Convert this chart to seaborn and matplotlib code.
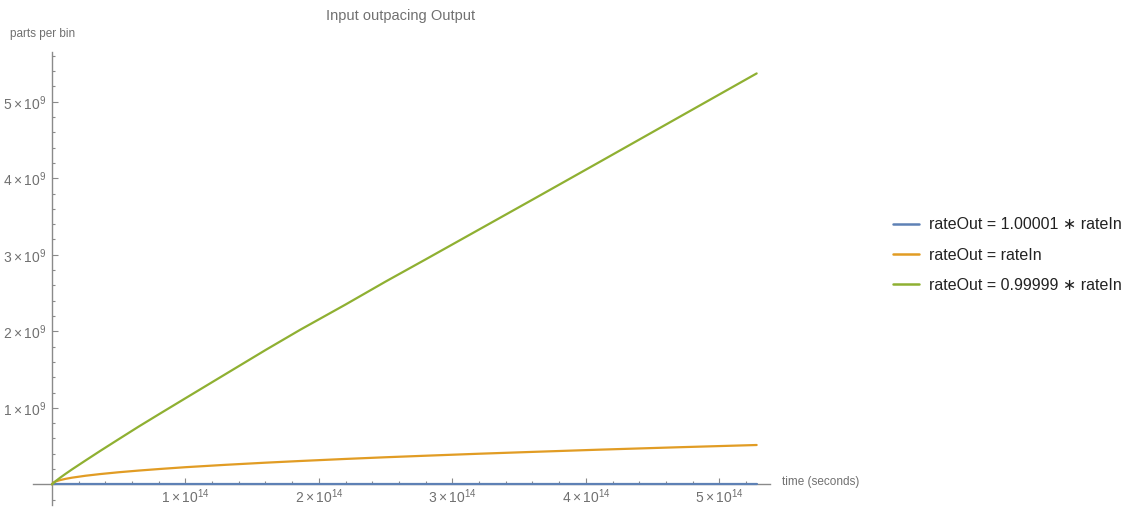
import matplotlib
matplotlib.use("Agg")
import matplotlib.pyplot as plt
import pandas as pd
import seaborn as sns
from matplotlib.ticker import FixedLocator, MultipleLocator, FuncFormatter

# time samples (seconds)
time_s = [0, 0.01e14, 0.03e14, 0.06e14, 0.1e14, 0.15e14, 0.25e14, 0.36e14,
          0.5e14, 0.65e14, 0.81e14, 1.0e14, 1.3e14, 1.6e14, 1.86e14, 2.2e14,
          2.5e14, 2.8e14, 3.2e14, 3.6e14, 4.1e14, 4.7e14, 5.28e14]
# parts per bin for each output-rate case
parts_fast_out = [0] * 23
parts_equal = [0, 0.022e9, 0.039e9, 0.055e9, 0.071e9, 0.087e9, 0.112e9, 0.134e9,
               0.158e9, 0.180e9, 0.201e9, 0.224e9, 0.255e9, 0.283e9, 0.305e9, 0.332e9,
               0.354e9, 0.374e9, 0.400e9, 0.424e9, 0.453e9, 0.485e9, 0.514e9]
parts_slow_out = [0, 0.016e9, 0.045e9, 0.085e9, 0.135e9, 0.195e9, 0.31e9, 0.435e9,
                  0.59e9, 0.755e9, 0.925e9, 1.125e9, 1.44e9, 1.755e9, 2.02e9, 2.35e9,
                  2.65e9, 2.94e9, 3.33e9, 3.72e9, 4.21e9, 4.80e9, 5.37e9]

series_labels = ["rateOut = 1.00001 \u2217 rateIn",
                 "rateOut = rateIn",
                 "rateOut = 0.99999 \u2217 rateIn"]
series_colors = ["#5E81B5", "#E19C24", "#8FB032"]

x_major = [1e14, 2e14, 3e14, 4e14, 5e14]
y_major = [1e9, 2e9, 3e9, 4e9, 5e9]

frames = []
for lab, vals in zip(series_labels, [parts_fast_out, parts_equal, parts_slow_out]):
    frames.append(pd.DataFrame({"time": time_s, "parts": vals, "case": lab}))
df = pd.concat(frames, ignore_index=True)

sns.set_style("white")
plt.rcParams["font.family"] = ["Liberation Sans", "DejaVu Sans"]
plt.rcParams["mathtext.fontset"] = "custom"
plt.rcParams["mathtext.rm"] = "Liberation Sans"
plt.rcParams["mathtext.it"] = "Liberation Sans"

W, H = 1138, 507
fig = plt.figure(figsize=(W / 100, H / 100), dpi=100)
ax_l, ax_r, ax_t, ax_b = 33, 770, 52, 505
ax = fig.add_axes([ax_l / W, 1 - ax_b / H, (ax_r - ax_l) / W, (ax_b - ax_t) / H])

sns.lineplot(data=df, x="time", y="parts", hue="case", hue_order=series_labels,
             palette=series_colors, linewidth=1.6, ax=ax, legend=True)

ax.set_xlim(-0.142e14, 5.38e14)
ax.set_ylim(-0.27e9, 5.65e9)

axis_gray = "#8a8a8a"
text_gray = "#707070"
for side in ["top", "right"]:
    ax.spines[side].set_visible(False)
ax.spines["left"].set_position(("data", 0))
ax.spines["bottom"].set_position(("data", 0))
for side in ["left", "bottom"]:
    ax.spines[side].set_color(axis_gray)
    ax.spines[side].set_linewidth(1.0)
    ax.spines[side].set_zorder(1)

ax.xaxis.set_major_locator(FixedLocator(x_major))
ax.yaxis.set_major_locator(FixedLocator(y_major))
ax.xaxis.set_minor_locator(MultipleLocator(0.2e14))
ax.yaxis.set_minor_locator(MultipleLocator(0.2e9))
ax.xaxis.set_major_formatter(FuncFormatter(lambda v, p: r"$%d\times10^{14}$" % round(v / 1e14)))
ax.yaxis.set_major_formatter(FuncFormatter(lambda v, p: r"$%d\times10^{9}$" % round(v / 1e9)))
ax.tick_params(axis="both", which="both", bottom=True, left=True, top=False, right=False)
ax.tick_params(axis="both", which="major", direction="in", length=4.5, width=0.8,
               color=axis_gray, labelcolor=text_gray, labelsize=10)
ax.tick_params(axis="both", which="minor", direction="in", length=2.5, width=0.8,
               color=axis_gray)
ax.tick_params(axis="x", which="major", pad=2.5)
ax.tick_params(axis="y", which="major", pad=4)
ax.set_xlabel("")
ax.set_ylabel("")
ax.grid(False)

fig.text(10 / W, 1 - 34 / H, "parts per bin", ha="left", va="center",
         fontsize=8.5, color=text_gray)
fig.text(782 / W, 1 - 482 / H, "time (seconds)", ha="left", va="center",
         fontsize=8.5, color=text_gray)
fig.text(401 / W, 1 - 16 / H, "Input outpacing Output", ha="center", va="center",
         fontsize=10.5, color=text_gray)

sns.move_legend(ax, "center left",
                bbox_to_anchor=((879 - ax_l) / (ax_r - ax_l), (ax_b - 255) / (ax_b - ax_t)),
                frameon=False, title=None, fontsize=11.5, handlelength=1.6,
                handletextpad=0.6, labelspacing=0.95)
for line in ax.get_legend().get_lines():
    line.set_linewidth(1.8)
for t in ax.get_legend().get_texts():
    t.set_color("#222222")

fig.savefig("out.png", dpi=100)
